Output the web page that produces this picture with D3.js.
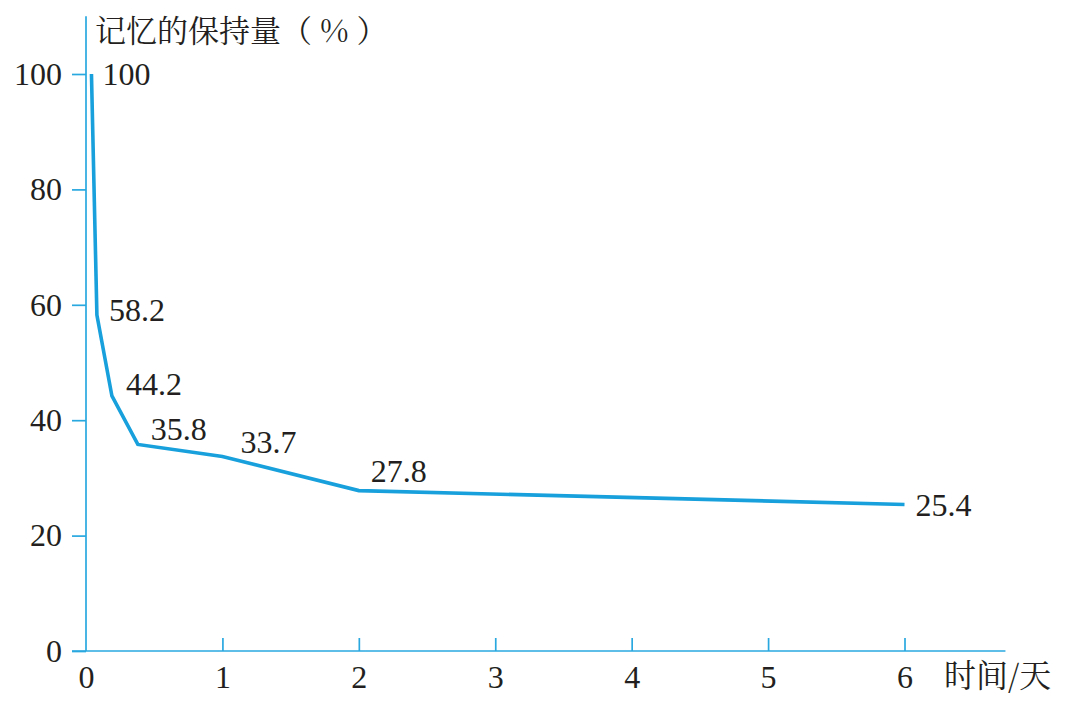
<!DOCTYPE html>
<meta charset="utf-8">
<style>
	body { margin: 0; background: #fff; }
	.axis line, .axis path { stroke: #29a8e0; stroke-width: 1.7px; }
	text { fill: #231f20; font-family: "Liberation Serif", Tinos, "Times New Roman", Times, serif; font-size: 32px; }
	.cjk { font-family: "Noto Serif CJK SC", "Noto Sans CJK SC", sans-serif; font-size: 31px; }
</style>
<svg width="1070" height="704"></svg>
<script src="https://cdn.jsdelivr.net/npm/d3@7"></script>
<script>
	// data
	var days = [0.04, 0.08, 0.19, 0.38, 1, 2, 6];
	var retention = [100, 58.2, 44.2, 35.8, 33.7, 27.8, 25.4];
	var labels = ["100", "58.2", "44.2", "35.8", "33.7", "27.8", "25.4"];
	var xTicks = [0, 1, 2, 3, 4, 5, 6];
	var yTicks = [0, 20, 40, 60, 80, 100];
	// label offsets from each point (dx, dy)
	var labelOffsets = [[11, 0], [12, -5], [14, -12], [13, -15], [18, -14], [12, -19], [11, 1]];

	var serif = '"Liberation Serif", Tinos, "Times New Roman", Times, serif';
	var svg = d3.select("svg");
	var x = d3.scaleLinear().domain([0, 6]).range([86, 904.5]);
	var y = d3.scaleLinear().domain([0, 100]).range([651, 74]);
	var axisColor = "#29a8e0";

	// axis lines
	svg.append("line")
		.attr("x1", x(0)).attr("x2", x(0))
		.attr("y1", y(110)).attr("y2", y(0))
		.attr("stroke", axisColor).attr("stroke-width", 1.7);
	svg.append("line")
		.attr("x1", x(0) - 14).attr("x2", x(6.74))
		.attr("y1", y(0)).attr("y2", y(0))
		.attr("stroke", axisColor).attr("stroke-width", 1.7);

	// y axis
	var gY = svg.append("g")
		.attr("class", "axis")
		.attr("transform", "translate(" + x(0) + ",0)")
		.call(d3.axisLeft(y).tickValues(yTicks).tickFormat(d3.format("d"))
			.tickSize(14).tickPadding(10));
	// x axis, ticks pointing up
	var gX = svg.append("g")
		.attr("class", "axis")
		.attr("transform", "translate(0," + y(0) + ")")
		.call(d3.axisBottom(x).tickValues(xTicks).tickFormat(d3.format("d"))
			.tickSizeInner(-13).tickSizeOuter(0).tickPadding(14));
	gX.selectAll(".tick").filter(function(d) { return d === 0; }).select("line").remove();
	[gX, gY].forEach(function(g) {
		g.attr("font-family", serif).attr("font-size", 32);
		g.select(".domain").remove();
		g.selectAll("text")
			.attr("fill", "#231f20")
			.style("font-family", serif)
			.style("font-size", "32px");
	});

	// curve
	var pts = days.map(function(d, i) { return [d, retention[i]]; });
	svg.append("path")
		.datum(pts)
		.attr("fill", "none")
		.attr("stroke", "#17a0dc")
		.attr("stroke-width", 3.6)
		.attr("stroke-linejoin", "miter")
		.attr("d", d3.line()
			.x(function(d) { return x(d[0]); })
			.y(function(d) { return y(d[1]); }));

	// value labels
	svg.append("g").selectAll("text")
		.data(pts)
		.enter().append("text")
		.attr("x", function(d, i) { return x(d[0]) + labelOffsets[i][0]; })
		.attr("y", function(d, i) { return y(d[1]) + labelOffsets[i][1]; })
		.attr("dy", "0.34em")
		.text(function(d, i) { return labels[i]; });

	// axis titles
	svg.append("text")
		.attr("class", "cjk")
		.attr("x", 95).attr("y", 42)
		.text("记忆的保持量（ % ）");
	svg.append("text")
		.attr("class", "cjk")
		.attr("x", 944).attr("y", 687)
		.style("font-size", "32px")
		.text("时间/天");
</script>
